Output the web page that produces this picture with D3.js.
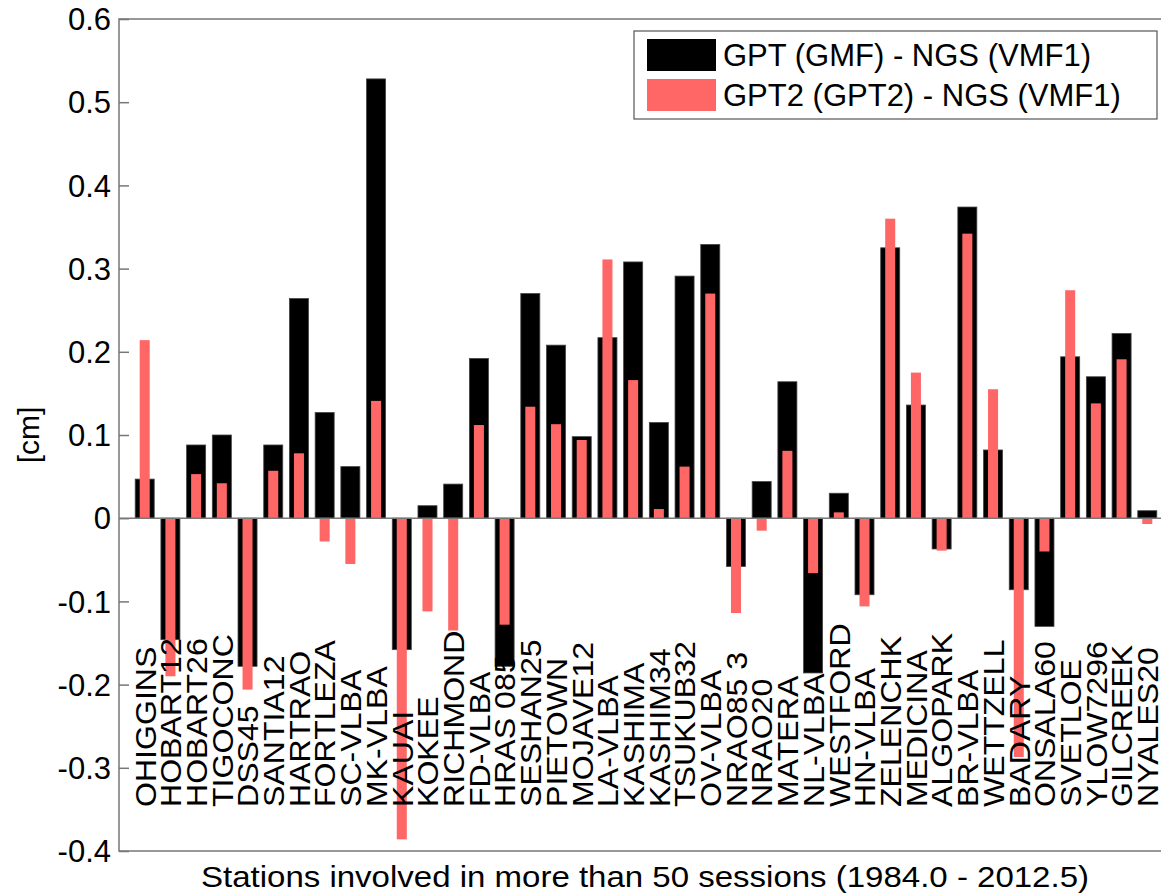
<!DOCTYPE html>
<html>
<head>
<meta charset="utf-8">
<script src="https://cdn.jsdelivr.net/npm/d3@7"></script>
<style>
  body { margin: 0; background: #fff; }
  text { font-family: "Liberation Sans", Arial, Helvetica, sans-serif; fill: #000; }
</style>
</head>
<body>
<div id="chart-area"></div>
<script>
// stacje i roznice (cm)
const stations = ["OHIGGINS","HOBART12","HOBART26","TIGOCONC","DSS45","SANTIA12","HARTRAO","FORTLEZA","SC-VLBA","MK-VLBA",
  "KAUAI","KOKEE","RICHMOND","FD-VLBA","HRAS 085","SESHAN25","PIETOWN","MOJAVE12","LA-VLBA","KASHIMA",
  "KASHIM34","TSUKUB32","OV-VLBA","NRAO85 3","NRAO20","MATERA","NL-VLBA","WESTFORD","HN-VLBA","ZELENCHK",
  "MEDICINA","ALGOPARK","BR-VLBA","WETTZELL","BADARY","ONSALA60","SVETLOE","YLOW7296","GILCREEK","NYALES20"];

const gptGmf = [0.047,-0.146,0.088,0.100,-0.178,0.088,0.264,0.127,0.062,0.528,
  -0.158,0.015,0.041,0.192,-0.178,0.270,0.208,0.098,0.217,0.308,
  0.115,0.291,0.329,-0.058,0.044,0.164,-0.186,0.030,-0.092,0.325,
  0.136,-0.037,0.374,0.082,-0.086,-0.130,0.194,0.170,0.222,0.009];

const gpt2 = [0.214,-0.190,0.053,0.042,-0.206,0.057,0.078,-0.028,-0.055,0.141,
  -0.386,-0.112,-0.135,0.112,-0.128,0.134,0.113,0.094,0.311,0.166,
  0.011,0.062,0.270,-0.114,-0.015,0.081,-0.066,0.007,-0.106,0.360,
  0.175,-0.039,0.342,0.155,-0.287,-0.040,0.274,0.138,0.191,-0.007];

const yTicks = [-0.4,-0.3,-0.2,-0.1,0,0.1,0.2,0.3,0.4,0.5,0.6];
const yTickLabels = ["-0.4","-0.3","-0.2","-0.1","0","0.1","0.2","0.3","0.4","0.5","0.6"];

const seriesNames = ["GPT (GMF) - NGS (VMF1)", "GPT2 (GPT2) - NGS (VMF1)"];
const seriesColors = ["#000000", "#ff6666"];

const W = 1161, H = 896;
const mLeft = 119, mRight = 1173, mTop = 19, mBottom = 851;

let svg = d3.select("#chart-area").append("svg")
  .attr("width", W)
  .attr("height", H);

let x = d3.scalePoint().domain(stations).range([mLeft, mRight]).padding(1);
let y = d3.scaleLinear().domain([-0.4, 0.6]).range([mBottom, mTop]);
let step = x.step();

// ramka wykresu
svg.append("rect")
  .attr("x", mLeft).attr("y", mTop)
  .attr("width", mRight - mLeft).attr("height", mBottom - mTop)
  .attr("fill", "none").attr("stroke", "#777").attr("stroke-width", 1.5);

// os y z tickami do srodka
let yAxis = d3.axisRight(y).tickValues(yTicks).tickSize(10).tickFormat("");
svg.append("g").attr("transform", `translate(${mLeft},0)`).call(yAxis)
  .call(g => g.select(".domain").remove())
  .call(g => g.selectAll("line").attr("stroke", "#777").attr("stroke-width", 1.5));

svg.append("g").selectAll("text")
  .data(yTicks)
  .enter().append("text")
  .attr("x", mLeft - 8)
  .attr("y", d => y(d))
  .attr("dy", "0.36em")
  .attr("text-anchor", "end")
  .attr("font-size", 31)
  .text((d, i) => yTickLabels[i]);

// czarne slupki
let bw1 = step * 0.74, bw2 = step * 0.39;
svg.append("g").selectAll("rect")
  .data(gptGmf)
  .enter().append("rect")
  .attr("x", (d, i) => x(stations[i]) - bw1 / 2)
  .attr("y", d => y(Math.max(0, d)))
  .attr("width", bw1)
  .attr("height", d => Math.abs(y(d) - y(0)))
  .attr("fill", seriesColors[0])
  .attr("stroke", "#444").attr("stroke-width", 0.8);

// czerwone slupki
svg.append("g").selectAll("rect")
  .data(gpt2)
  .enter().append("rect")
  .attr("x", (d, i) => x(stations[i]) - bw2 / 2)
  .attr("y", d => y(Math.max(0, d)))
  .attr("width", bw2)
  .attr("height", d => Math.abs(y(d) - y(0)))
  .attr("fill", seriesColors[1]);

// linia zera
svg.append("line")
  .attr("x1", mLeft).attr("x2", mRight)
  .attr("y1", y(0)).attr("y2", y(0))
  .attr("stroke", "#777").attr("stroke-width", 1.5);

// nazwy stacji pionowo (troche rozciagniete wzdluz tekstu jak w oryginale)
svg.append("g").selectAll("text")
  .data(stations)
  .enter().append("text")
  .attr("transform", d => `translate(${x(d)},807) rotate(-90) scale(1.07,1)`)
  .attr("dy", "0.36em")
  .attr("font-size", 30)
  .text(d => d);

// opisy osi
svg.append("text")
  .attr("transform", `translate(28,435) rotate(-90)`)
  .attr("dy", "0.36em")
  .attr("text-anchor", "middle")
  .attr("font-size", 30)
  .text("[cm]");

svg.append("text")
  .attr("x", 645).attr("y", 887)
  .attr("text-anchor", "middle")
  .attr("font-size", 30)
  .attr("textLength", 888)
  .attr("lengthAdjust", "spacingAndGlyphs")
  .text("Stations involved in more than 50 sessions (1984.0 - 2012.5)");

// legenda
let lg = svg.append("g");
lg.append("rect")
  .attr("x", 634).attr("y", 31).attr("width", 523).attr("height", 88)
  .attr("fill", "#fff").attr("stroke", "#555").attr("stroke-width", 1.2);

seriesNames.forEach((name, i) => {
  lg.append("rect")
    .attr("x", 647).attr("y", 39 + i * 40)
    .attr("width", 69).attr("height", 32)
    .attr("fill", seriesColors[i]);
  lg.append("text")
    .attr("x", 723).attr("y", 66 + i * 40)
    .attr("font-size", 31)
    .text(name);
});
</script>
</body>
</html>
